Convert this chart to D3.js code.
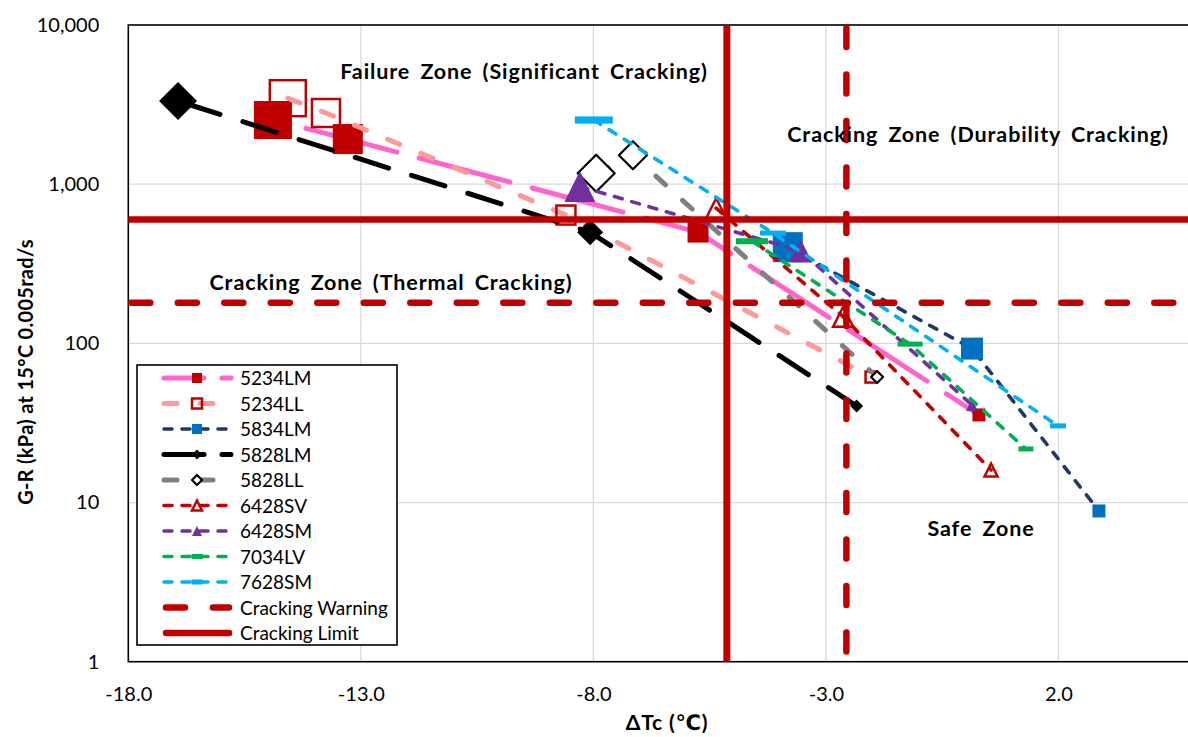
<!DOCTYPE html>
<html>
<head>
<meta charset="utf-8">
<script src="https://cdn.jsdelivr.net/npm/d3@7"></script>
<style>
  body { margin: 0; background: #fff; }
  svg { display: block; font-family: Lato, "Open Sans", "DejaVu Sans", sans-serif; }
</style>
</head>
<body>
<svg id="chart" width="1188" height="737"></svg>
<script>
// ---- Data: ΔTc (°C) and G-R (kPa, 15 °C, 0.005 rad/s) per binder sample ----
const seriesNames = ["5234LM", "5234LL", "5834LM", "5828LM", "5828LL", "6428SV", "6428SM", "7034LV", "7628SM"];

const dTc_5234LM = [-14.89, -13.28, -5.75, 0.29];
const gr_5234LM  = [2530, 1920, 500, 35.5];

const dTc_5234LL = [-14.57, -13.75, -8.59, -2.03];
const gr_5234LL  = [3470, 2800, 640, 61.4];

const dTc_5834LM = [-3.82, 0.14, 2.87];
const gr_5834LM  = [402, 92.7, 8.85];

const dTc_5828LM = [-16.93, -8.07, -2.34];
const gr_5828LM  = [3330, 499, 40.4];

const dTc_5828LL = [-7.94, -7.15, -1.90];
const gr_5828LL  = [1171, 1521, 61.4];

const dTc_6428SV = [-5.36, -2.63, 0.55];
const gr_6428SV  = [706, 147, 16.0];

const dTc_6428SM = [-8.29, -3.54, 0.14];
const gr_6428SM  = [967, 380, 41.0];

const dTc_7034LV = [-4.59, -1.19, 1.30];
const gr_7034LV  = [438, 98.9, 21.7];

const dTc_7628SM = [-7.99, -4.14, 1.99];
const gr_7628SM  = [2529, 493, 30.3];

// Criteria lines
const warningGR = 180,  warningDTc = -2.56;
const limitGR   = 600,  limitDTc   = -5.13;

// Axes
const xTicks = [-18, -13, -8, -3, 2];
const xTickLabels = ["-18.0", "-13.0", "-8.0", "-3.0", "2.0"];
const yTicks = [1, 10, 100, 1000, 10000];
const yTickLabels = ["1", "10", "100", "1,000", "10,000"];

const zoneLabels = [
  "Failure Zone (Significant Cracking)",
  "Cracking Zone (Durability Cracking)",
  "Cracking Zone (Thermal Cracking)",
  "Safe Zone"
];
const criteriaNames = ["Cracking Warning", "Cracking Limit"];

const seriesData = {
  "5234LM": [dTc_5234LM, gr_5234LM],
  "5234LL": [dTc_5234LL, gr_5234LL],
  "5834LM": [dTc_5834LM, gr_5834LM],
  "5828LM": [dTc_5828LM, gr_5828LM],
  "5828LL": [dTc_5828LL, gr_5828LL],
  "6428SV": [dTc_6428SV, gr_6428SV],
  "6428SM": [dTc_6428SM, gr_6428SM],
  "7034LV": [dTc_7034LV, gr_7034LV],
  "7628SM": [dTc_7628SM, gr_7628SM]
};

// ---- Styles ----
const RED = "#C00000";
const styles = {
  "5234LM": { line: "#FF66CC", width: 5,   dash: "94 23", legendDash: "40 18", offset: 83, marker: "square",   fill: RED,  stroke: "none", sizes: [38, 30, 21, 13] },
  "5234LL": { line: "#FF9999", width: 5,   dash: "13 23", offset: 0,  marker: "square",   fill: "none", stroke: RED,  sizes: [36, 28, 19, 11] },
  "5834LM": { line: "#1F3864", width: 3.6, dash: "8 10",  offset: 0,  marker: "square",   fill: "#0070C0", stroke: "none", sizes: [30, 22, 13] },
  "5828LM": { line: "#000000", width: 5,   dash: "35 24", legendDash: "40 18", offset: 50, marker: "diamond",  fill: "#000", stroke: "none", sizes: [38, 26, 13] },
  "5828LL": { line: "#808080", width: 5,   dash: "13 23", offset: 0,  marker: "diamond",  fill: "#fff", stroke: "#000", sizes: [37, 28, 12] },
  "6428SV": { line: RED,       width: 3.6, dash: "8 10",  offset: 0,  marker: "triangle", fill: "none", stroke: RED,  sizes: [20, 20, 13] },
  "6428SM": { line: "#7030A0", width: 3.6, dash: "8 10",  offset: 0,  marker: "triangle", fill: "#7030A0", stroke: "none", sizes: [31, 23, 12] },
  "7034LV": { line: "#00B050", width: 3.6, dash: "8 10",  offset: 0,  marker: "dash",     fill: "#00B050", stroke: "none", sizes: [32, 25, 15] },
  "7628SM": { line: "#00B0F0", width: 3.6, dash: "8 10",  offset: 0,  marker: "dash",     fill: "#00B0F0", stroke: "none", sizes: [38, 26, 16] }
};

// ---- Layout ----
const svg = d3.select("#chart");
const plot = { left: 128.3, top: 25, bottom: 661.7, right: 1198 };

const x = d3.scaleLinear().domain([-18, 5]).range([plot.left, plot.right]);
const y = d3.scaleLog().domain([1, 10000]).range([plot.bottom, plot.top]);

// Gridlines
const grid = svg.append("g").attr("stroke", "#D9D9D9").attr("stroke-width", 1.3);
grid.selectAll("line.v").data(xTicks.slice(1)).join("line")
  .attr("x1", d => x(d)).attr("x2", d => x(d))
  .attr("y1", plot.top).attr("y2", plot.bottom);
grid.selectAll("line.h").data(yTicks.slice(1, -1)).join("line")
  .attr("x1", plot.left).attr("x2", plot.right)
  .attr("y1", d => y(d)).attr("y2", d => y(d));

// Plot border
svg.append("rect")
  .attr("x", plot.left).attr("y", plot.top)
  .attr("width", plot.right - plot.left).attr("height", plot.bottom - plot.top)
  .attr("fill", "none").attr("stroke", "#000").attr("stroke-width", 1.6);

// Axes (labels only; border drawn above)
const xAxis = d3.axisBottom(x).tickValues(xTicks).tickSize(0).tickPadding(25)
  .tickFormat((d, i) => xTickLabels[i]);
svg.append("g").attr("transform", `translate(0,${plot.bottom})`).call(xAxis)
  .call(g => g.select(".domain").remove())
  .selectAll("text").attr("font-size", 20).attr("fill", "#000")
  .attr("font-family", "Lato, 'Open Sans', sans-serif");

const yAxis = d3.axisLeft(y).tickValues(yTicks).tickSize(0).tickPadding(29)
  .tickFormat(d => yTickLabels[yTicks.indexOf(d)]);
svg.append("g").attr("transform", `translate(${plot.left},0)`).call(yAxis)
  .call(g => g.select(".domain").remove())
  .selectAll("text").attr("font-size", 20).attr("fill", "#000")
  .attr("font-family", "Lato, 'Open Sans', sans-serif");

// Axis titles
svg.append("text")
  .attr("transform", `translate(33,372) rotate(-90)`)
  .attr("text-anchor", "middle").attr("font-weight", 700).attr("font-size", 20)
  .attr("letter-spacing", 0.3)
  .text("G-R (kPa) at 15°C 0.005rad/s");
svg.append("text")
  .attr("x", 667).attr("y", 730)
  .attr("text-anchor", "middle").attr("font-weight", 700).attr("font-size", 21)
  .attr("letter-spacing", 0.8)
  .text("ΔTc (℃)");

// Marker drawing
function drawMarker(g, type, size, st) {
  const s = size / 2;
  if (type === "square") {
    g.append("rect").attr("x", -s).attr("y", -s).attr("width", size).attr("height", size)
      .attr("fill", st.fill).attr("stroke", st.stroke).attr("stroke-width", 2.5);
  } else if (type === "diamond") {
    g.append("path").attr("d", `M0,${-s}L${s},0L0,${s}L${-s},0Z`)
      .attr("fill", st.fill).attr("stroke", st.stroke).attr("stroke-width", 2.2)
      .attr("stroke-linejoin", "round");
  } else if (type === "triangle") {
    g.append("path").attr("d", `M0,${-s}L${s},${s}L${-s},${s}Z`)
      .attr("fill", st.fill).attr("stroke", st.stroke).attr("stroke-width", 2.5);
  } else if (type === "dash") {
    const h = Math.max(5, size * 0.19);
    g.append("rect").attr("x", -s).attr("y", -h / 2).attr("width", size).attr("height", h)
      .attr("fill", st.fill);
  }
}

// Series lines and markers
const lineGen = d3.line().x(d => x(d[0])).y(d => y(d[1]));
const seriesLayer = svg.append("g");
seriesNames.forEach(name => {
  const [xs, ys] = seriesData[name];
  const pts = xs.map((v, i) => [v, ys[i]]);
  const st = styles[name];
  const g = seriesLayer.append("g");
  g.append("path").datum(pts).attr("d", lineGen)
    .attr("fill", "none").attr("stroke", st.line).attr("stroke-width", st.width)
    .attr("stroke-dasharray", st.dash).attr("stroke-dashoffset", st.offset)
    .attr("stroke-linecap", "round").attr("stroke-linejoin", "round");
  pts.forEach((p, i) => {
    const mg = g.append("g").attr("transform", `translate(${x(p[0])},${y(p[1])})`);
    drawMarker(mg, st.marker, st.sizes[i], st);
  });
});

// Criteria lines
const crit = svg.append("g");
crit.append("line")
  .attr("x1", plot.left).attr("x2", plot.right).attr("y1", y(warningGR)).attr("y2", y(warningGR))
  .attr("stroke", RED).attr("stroke-width", 6.5).attr("stroke-dasharray", "19 27.5")
  .attr("stroke-dashoffset", -3).attr("stroke-linecap", "round");
crit.append("line")
  .attr("x1", x(warningDTc)).attr("x2", x(warningDTc)).attr("y1", plot.top).attr("y2", plot.bottom)
  .attr("stroke", RED).attr("stroke-width", 6.5).attr("stroke-dasharray", "19 27.5")
  .attr("stroke-dashoffset", -3).attr("stroke-linecap", "round");
crit.append("line")
  .attr("x1", plot.left).attr("x2", plot.right).attr("y1", y(limitGR)).attr("y2", y(limitGR))
  .attr("stroke", RED).attr("stroke-width", 6.5);
crit.append("line")
  .attr("x1", x(limitDTc)).attr("x2", x(limitDTc)).attr("y1", plot.top).attr("y2", plot.bottom)
  .attr("stroke", RED).attr("stroke-width", 7);

// Zone annotations
const zonePos = [[524, 79], [978, 142], [391, 290], [981, 536]];
svg.append("g").selectAll("text").data(zoneLabels).join("text")
  .attr("x", (d, i) => zonePos[i][0]).attr("y", (d, i) => zonePos[i][1])
  .attr("text-anchor", "middle").attr("font-weight", 700).attr("font-size", 21.5)
  .attr("letter-spacing", 0.9).attr("word-spacing", 4)
  .text(d => d);

// Legend
const legend = svg.append("g");
legend.append("rect").attr("x", 137).attr("y", 365).attr("width", 260).attr("height", 280)
  .attr("fill", "#fff").attr("stroke", "#000").attr("stroke-width", 1.6);
const rowY = i => 378 + i * 25.5;
seriesNames.forEach((name, i) => {
  const st = styles[name];
  const g = legend.append("g");
  g.append("line").attr("x1", 164).attr("x2", 231).attr("y1", rowY(i)).attr("y2", rowY(i))
    .attr("stroke", st.line).attr("stroke-width", st.width)
    .attr("stroke-dasharray", st.legendDash || st.dash).attr("stroke-linecap", "round");
  const mg = g.append("g").attr("transform", `translate(197,${rowY(i)})`);
  const ms = st.marker === "dash" ? 11 : 10;
  drawMarker(mg, st.marker, ms, st);
  g.append("text").attr("x", 240).attr("y", rowY(i) + 7).attr("font-size", 19).text(name);
});
criteriaNames.forEach((name, j) => {
  const i = seriesNames.length + j;
  const g = legend.append("g");
  const l = g.append("line").attr("x1", 166).attr("x2", 229).attr("y1", rowY(i)).attr("y2", rowY(i))
    .attr("stroke", RED).attr("stroke-width", 6.5).attr("stroke-linecap", "round");
  if (j === 0) l.attr("stroke-dasharray", "19 28");
  g.append("text").attr("x", 240).attr("y", rowY(i) + 7).attr("font-size", 19).text(name);
});
</script>
</body>
</html>
